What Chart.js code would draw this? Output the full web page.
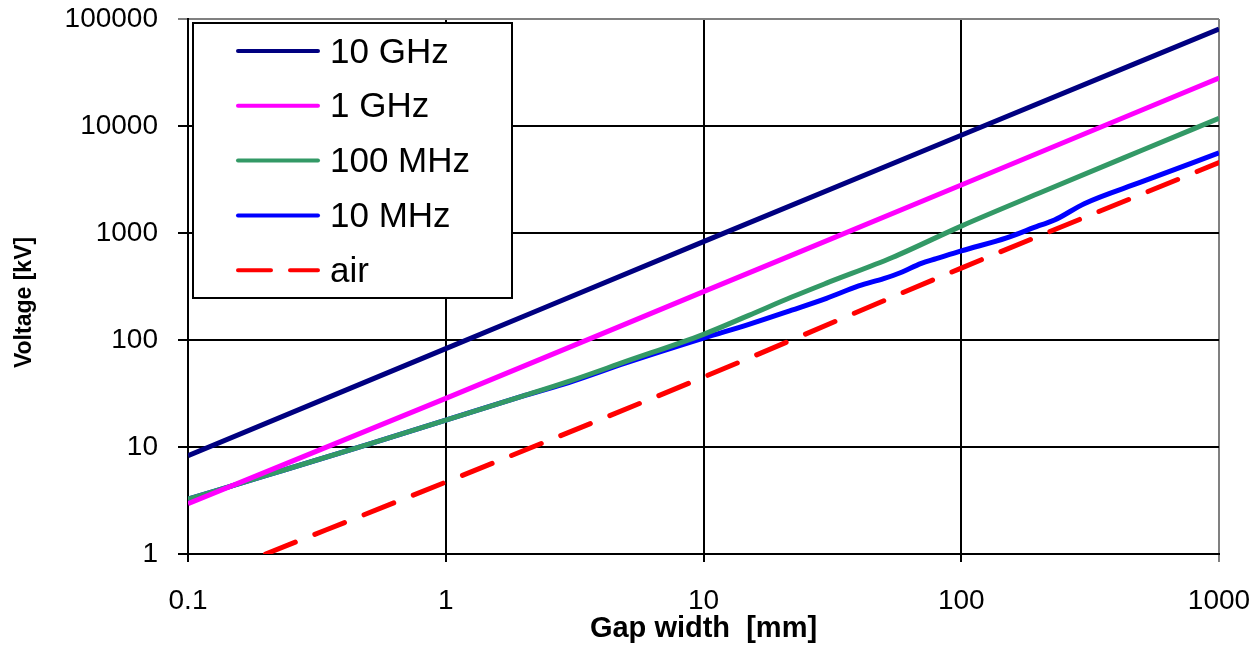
<!DOCTYPE html>
<html lang="en">

<head>
    <meta charset="UTF-8">
    <title>Breakdown voltage vs gap width</title>
    <style>
        body { margin: 0; background: #fff; }
        #wrap { width: 1256px; height: 647px; }
    </style>
    <script src="https://cdn.jsdelivr.net/npm/chart.js"></script>
</head>

<body>
    <div id="wrap"><canvas id="graphic"></canvas></div>
    <script>
        // tick values + labels
        const xTicks = [0.1, 1, 10, 100, 1000];
        const xTickLabels = ["0.1", "1", "10", "100", "1000"];
        const yTicks = [1, 10, 100, 1000, 10000, 100000];
        const yTickLabels = ["1", "10", "100", "1000", "10000", "100000"];

        // series (gap in mm, voltage in kV)
        const gap10GHz = [0.1, 1, 10, 100, 1000];
        const volt10GHz = [8.3, 83, 830, 8200, 80500];

        const gap1GHz = [0.1, 1, 10, 100, 1000];
        const volt1GHz = [2.95, 28.5, 283, 2810, 28100];

        const gap100MHz = [0.1, 0.2, 0.5, 1, 2, 3, 5, 10, 15, 22, 30, 54, 100, 200, 500, 1000];
        const volt100MHz = [3.25, 5.4, 10.6, 17.8, 30, 41, 63, 113, 170, 252, 340, 590, 1160, 2350, 5900, 11800];

        const gap10MHz = [0.1, 0.2, 0.5, 1, 2, 3, 5, 10, 15, 22, 30, 40, 50, 58, 70, 80, 100, 150, 200, 230, 300, 500, 1000];
        const volt10MHz = [3.25, 5.4, 10.6, 17.8, 30, 40, 61, 104, 140, 190, 245, 320, 375, 425, 520, 575, 680, 900, 1170, 1320, 1880, 3000, 5600];

        const gapAir = [0.2, 1, 10, 100, 1000];
        const voltAir = [1.0, 4.7, 45, 470, 4550];

        const toPoints = (xs, ys) => xs.map((x, i) => ({ x: x, y: ys[i] }));

        Chart.defaults.font.family = "'Liberation Sans', Arial, sans-serif";
        Chart.defaults.color = "#000";

        function series(label, xs, ys, color, dash) {
            return {
                label: label,
                data: toPoints(xs, ys),
                borderColor: color,
                backgroundColor: color,
                borderWidth: 5,
                borderDash: dash || [],
                borderCapStyle: dash ? "round" : "butt",
                pointRadius: 0,
                cubicInterpolationMode: "monotone",
                fill: false
            };
        }

        // legend box drawn inside the plot, top-left
        const boxLegend = {
            id: "boxLegend",
            afterDatasetsDraw(chart) {
                const ctx = chart.ctx;
                const left = 193, top = 23, w = 319, h = 275;
                ctx.save();
                ctx.fillStyle = "#fff";
                ctx.fillRect(left, top, w, h);
                ctx.lineWidth = 2;
                ctx.strokeStyle = "#000";
                ctx.strokeRect(left, top, w, h);
                ctx.font = "35px 'Liberation Sans', Arial, sans-serif";
                ctx.textBaseline = "middle";
                ctx.fillStyle = "#000";
                chart.data.datasets.forEach((ds, i) => {
                    const y = 51 + i * 54.8;
                    ctx.beginPath();
                    ctx.strokeStyle = ds.borderColor;
                    ctx.lineWidth = 4;
                    ctx.lineCap = "round";
                    ctx.setLineDash(ds.borderDash.length ? [33, 19] : []);
                    ctx.moveTo(238, y);
                    ctx.lineTo(318, y);
                    ctx.stroke();
                    ctx.setLineDash([]);
                    ctx.fillText(ds.label, 330, y + 2);
                });
                ctx.restore();
            }
        };

        const lastGray = (n) => (c) => (c.index === n - 1 ? "#808080" : "#000");

        new Chart(document.getElementById("graphic"), {
            type: "line",
            data: {
                datasets: [
                    series("10 GHz", gap10GHz, volt10GHz, "#000080"),
                    series("1 GHz", gap1GHz, volt1GHz, "#ff00ff"),
                    series("100 MHz", gap100MHz, volt100MHz, "#339966"),
                    series("10 MHz", gap10MHz, volt10MHz, "#0000ff"),
                    series("air", gapAir, voltAir, "#ff0000", [32, 21])
                ]
            },
            options: {
                responsive: true,
                maintainAspectRatio: false,
                animation: false,
                layout: { padding: { top: 19, right: 37, left: 0, bottom: 0 } },
                plugins: {
                    legend: { display: false },
                    tooltip: { enabled: false }
                },
                scales: {
                    x: {
                        type: "logarithmic",
                        min: 0.1,
                        max: 1000,
                        afterBuildTicks: (s) => { s.ticks = xTicks.map(v => ({ value: v })); },
                        afterFit: (s) => {
                            s.height = 93;
                            s.paddingLeft = 0;
                            s.paddingRight = 0;
                        },
                        ticks: {
                            autoSkip: false,
                            maxRotation: 0,
                            padding: 22,
                            font: { size: 28 },
                            callback: (v, i) => xTickLabels[i]
                        },
                        grid: { color: lastGray(xTicks.length), lineWidth: 2, tickLength: 8 },
                        border: { color: "#000", width: 2 },
                        title: {
                            display: true,
                            text: "Gap width  [mm]",
                            font: { size: 29, weight: "bold" },
                            padding: { top: 0, bottom: 1 }
                        }
                    },
                    y: {
                        type: "logarithmic",
                        min: 1,
                        max: 100000,
                        afterBuildTicks: (s) => { s.ticks = yTicks.map(v => ({ value: v })); },
                        afterFit: (s) => {
                            s.width = 188;
                            s.paddingTop = 0;
                            s.paddingBottom = 0;
                        },
                        ticks: {
                            autoSkip: false,
                            padding: 20,
                            font: { size: 28 },
                            callback: (v, i) => yTickLabels[i]
                        },
                        grid: { color: lastGray(yTicks.length), lineWidth: 2, tickLength: 10 },
                        border: { color: "#000", width: 2 },
                        title: {
                            display: true,
                            text: "Voltage [kV]     ",
                            font: { size: 23, weight: "bold" },
                            padding: { top: 11, bottom: 0 }
                        }
                    }
                }
            },
            plugins: [boxLegend]
        });
    </script>
</body>

</html>
